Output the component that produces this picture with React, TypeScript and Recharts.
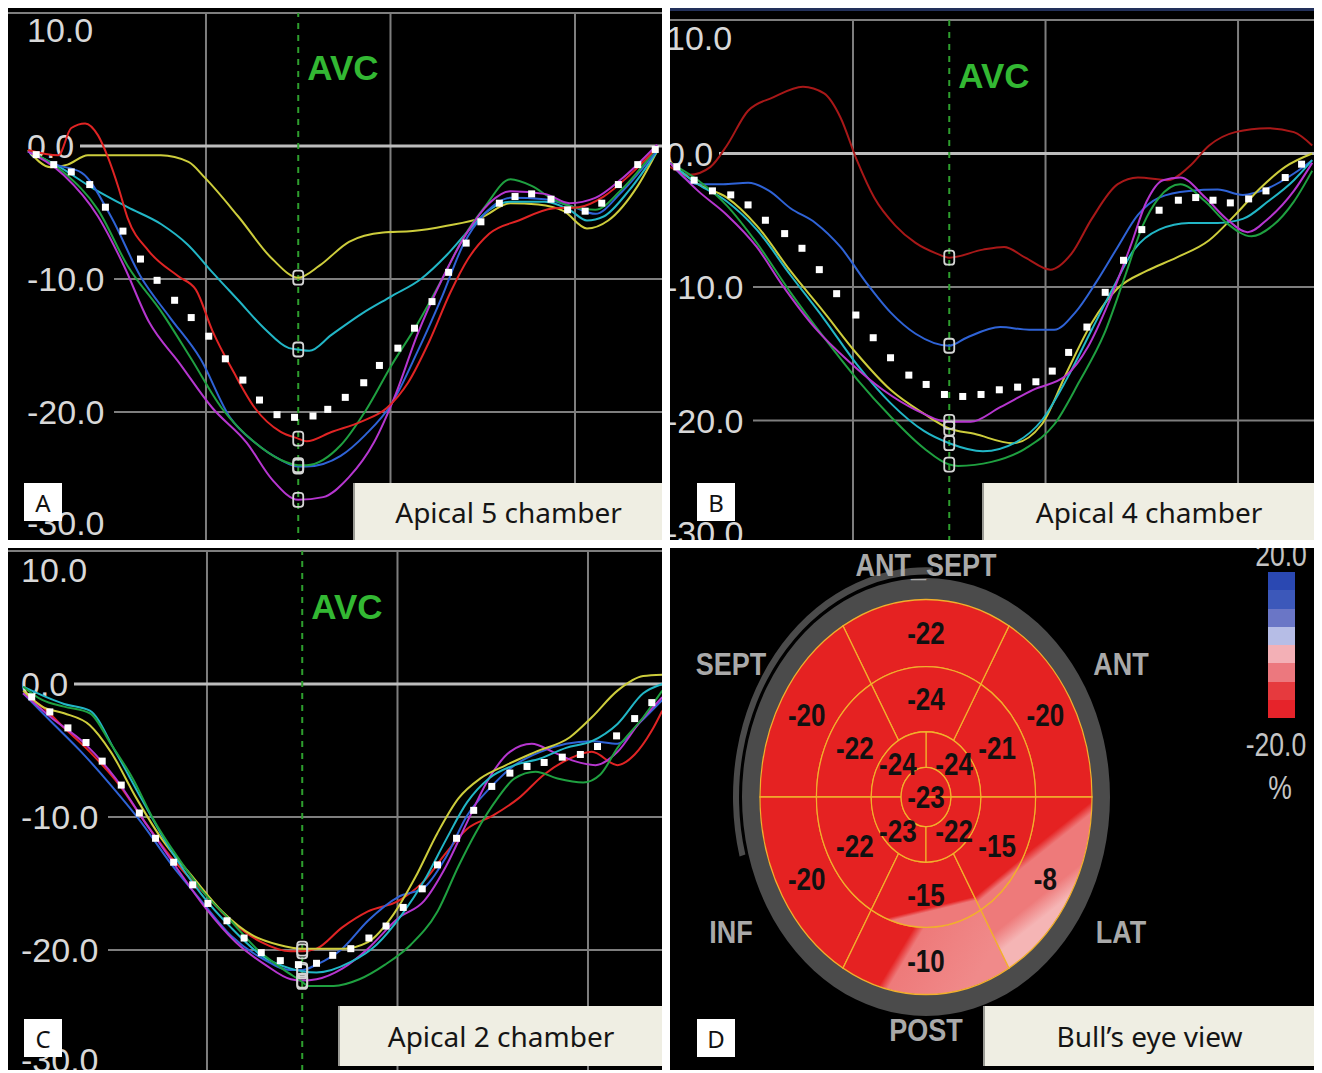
import React from "react";
import {
  ComposedChart, Line, Scatter, XAxis, YAxis, ReferenceLine,
  PieChart, Pie, Cell,
} from "recharts";

type Pt = [number, number]; // [time (ms), strain (%)]

// ---- A: apical 5 chamber ----
const A_RED: Pt[] = [[7,-0.3],[40,-0.7],[54,1.35],[69,1.7],[83,0.8],[94,-0.9],[105,-3.1],[115,-5.4],[138,-7.9],[170,-9.8],[189,-10.8],[207,-13.9],[230,-17],[253,-19.7],[281,-21.5],[300,-22],[309,-22.2],[336,-21.5],[369,-20.7],[396,-19.7],[419,-17.8],[442,-14.7],[465,-11],[484,-8.5],[507,-6.6],[539,-5.6],[576,-4.7],[604,-4.6],[631,-3.8],[659,-2.2],[689,-0.1]];
const A_YELLOW: Pt[] = [[7,-0.3],[32,-1.6],[50,-1.4],[72,-0.7],[110,-0.7],[151,-0.7],[181,-1.2],[199,-2.4],[235,-5.3],[272,-8.5],[300,-9.9],[323,-9],[355,-7.2],[392,-6.5],[424,-6.4],[461,-6],[498,-5.4],[530,-4.3],[560,-4.4],[588,-4.9],[613,-6.2],[636,-5.6],[668,-3],[689,-0.4]];
const A_CYAN: Pt[] = [[7,-0.4],[37,-1.4],[78,-3.2],[115,-4.6],[152,-5.9],[180,-7.4],[207,-9.5],[235,-11.6],[263,-13.7],[290,-15.2],[300,-15.3],[312,-15.4],[336,-14.2],[369,-12.6],[401,-11.3],[433,-10],[461,-8.2],[484,-6.4],[507,-4.8],[530,-4.2],[567,-4.2],[594,-4.8],[613,-5.6],[631,-5.3],[659,-3.3],[689,-0.4]];
const A_BLUE: Pt[] = [[7,-0.4],[37,-1.4],[65,-2],[97,-5.3],[129,-9.8],[161,-12.9],[194,-16],[226,-20.4],[253,-22.3],[281,-23.6],[300,-24.1],[309,-24.1],[346,-23.3],[373,-21.7],[401,-19.4],[429,-15.5],[456,-11.3],[479,-7.4],[502,-5.1],[530,-3.9],[567,-4],[599,-4.6],[622,-5.1],[650,-3.5],[689,-0.3]];
const A_GREEN: Pt[] = [[7,-0.3],[46,-2],[83,-4.8],[115,-9],[153,-12.6],[184,-16],[217,-19.7],[253,-22.3],[281,-23.6],[300,-24],[309,-24],[346,-22.5],[373,-19.9],[401,-16.5],[429,-13.4],[456,-10],[479,-6.9],[502,-4.6],[530,-2.5],[553,-3],[576,-4],[599,-4.6],[622,-4.8],[650,-3.3],[689,-0.1]];
const A_MAGENTA: Pt[] = [[7,-0.4],[46,-2.2],[83,-5.3],[111,-9],[138,-13.2],[171,-16.3],[207,-19.7],[244,-22.3],[272,-25.1],[300,-26.6],[327,-26.4],[355,-24.9],[382,-22.3],[406,-18.6],[429,-14.2],[456,-10],[484,-6.4],[507,-4.3],[530,-3.4],[567,-3.6],[594,-4.3],[622,-3.9],[650,-2.5],[689,0.1]];
const A_AVG: Pt[] = [[16,-0.65],[35,-1.4],[54,-1.95],[74,-2.9],[91,-4.6],[110,-6.4],[129,-8.5],[147,-10.1],[166,-11.6],[184,-12.9],[203,-14.3],[221,-16],[240,-17.6],[258,-19.1],[277,-20.2],[296,-20.4],[316,-20.3],[332,-19.8],[351,-18.9],[371,-17.8],[388,-16.5],[408,-15.2],[426,-13.7],[445,-11.7],[463,-9.5],[482,-7.3],[498,-5.7],[518,-4.3],[535,-3.8],[553,-3.6],[574,-4],[592,-4.8],[611,-4.9],[629,-4.3],[647,-2.9],[668,-1.4],[687,-0.26]];

// ---- B: apical 4 chamber ----
const B_RED: Pt[] = [[10,-1],[30,-1.6],[52,-1],[69,0.6],[91,3.2],[117,4.2],[148,5],[170,4.5],[187,2.7],[204,-0.5],[222,-3.3],[244,-5.4],[265,-6.7],[287,-7.5],[300,-7.8],[335,-7.2],[357,-7],[379,-7.8],[405,-8.7],[427,-7.5],[448,-4.9],[475,-2.3],[496,-1.8],[527,-2],[549,-1],[570,0.6],[597,1.6],[631,1.9],[658,1.6],[677,0.6]];
const B_BLUE: Pt[] = [[10,-0.7],[39,-2.3],[65,-2.3],[91,-2.2],[113,-2.8],[135,-4.1],[161,-5.2],[187,-7],[213,-9.6],[239,-11.9],[265,-13.5],[300,-14.4],[318,-13.8],[353,-13],[383,-13.2],[409,-13.2],[431,-11.9],[453,-9.6],[475,-7],[496,-4.6],[518,-3.3],[549,-2.8],[579,-2.7],[605,-3.1],[631,-2.6],[658,-1.5],[677,-0.5]];
const B_MAGENTA: Pt[] = [[10,-0.7],[39,-2.8],[69,-4.6],[100,-7],[126,-9.8],[161,-13.1],[196,-15.6],[231,-17.7],[265,-19.2],[300,-20.1],[322,-20.1],[353,-19],[387,-17.7],[422,-16.6],[444,-14.5],[466,-11.1],[488,-7],[505,-3.6],[522,-2],[540,-1.8],[566,-3.3],[588,-4.9],[610,-5.9],[631,-4.9],[658,-2.8],[677,-0.7]];
const B_YELLOW: Pt[] = [[10,-0.7],[39,-2.3],[69,-3.3],[100,-5.4],[135,-8.8],[170,-11.9],[204,-15],[239,-17.7],[274,-19.5],[300,-20.6],[326,-21],[366,-21.7],[396,-20.3],[422,-16.4],[448,-12.7],[475,-10.1],[505,-8.8],[536,-7.8],[570,-6.5],[597,-4.6],[623,-2.6],[649,-1],[677,0]];
const B_CYAN: Pt[] = [[10,-0.7],[39,-2.3],[69,-3.6],[100,-5.7],[135,-9.1],[170,-12.4],[204,-15.8],[239,-18.7],[274,-20.8],[300,-21.7],[335,-22.3],[370,-21.6],[396,-20],[422,-16.9],[448,-13.2],[470,-10.1],[492,-7.2],[518,-5.7],[549,-5.2],[579,-5.2],[605,-4.9],[631,-3.6],[658,-2],[677,-0.5]];
const B_GREEN: Pt[] = [[10,-0.7],[39,-2],[69,-3.9],[100,-6.7],[135,-10.4],[170,-13.8],[204,-16.9],[239,-19.7],[274,-22.1],[300,-23.3],[309,-23.4],[344,-23.1],[379,-22.1],[409,-20.3],[435,-17.1],[461,-13.5],[483,-9.1],[501,-5.4],[518,-3.3],[540,-2.3],[566,-3.6],[588,-5.2],[614,-6.2],[636,-5.4],[658,-3.6],[677,-1.3]];
const B_AVG: Pt[] = [[17,-1],[35,-2],[54,-2.8],[73,-3.1],[91,-3.85],[109,-5],[129,-6],[147,-7.1],[165,-8.7],[183,-10.5],[203,-12.1],[221,-13.8],[239,-15.3],[258,-16.6],[276,-17.3],[295,-18.05],[314,-18.2],[333,-18.05],[352,-17.7],[371,-17.5],[390,-17.1],[407,-16.3],[424,-14.9],[443,-13],[462,-10.4],[481,-8],[500,-5.7],[518,-4.25],[538,-3.5],[556,-3.3],[574,-3.5],[592,-3.7],[611,-3.4],[629,-2.8],[649,-1.8],[666,-0.8]];

// ---- C: apical 2 chamber ----
const C_GREEN: Pt[] = [[7,-0.2],[27,-1.2],[50,-1.7],[77,-2.2],[99,-4.5],[122,-7.1],[144,-10.2],[171,-13.2],[198,-15.8],[225,-17.8],[252,-19.9],[279,-21.4],[300,-22.4],[306,-22.7],[333,-22.7],[360,-22.2],[387,-21.1],[414,-19.6],[442,-17.1],[464,-13.7],[482,-11.2],[505,-8.6],[523,-7.1],[545,-6.6],[568,-7.1],[595,-7.4],[613,-6.8],[631,-4.8],[658,-2.5],[678,-0.5]];
const C_CYAN: Pt[] = [[7,-0.2],[50,-1.5],[77,-2],[104,-5.1],[131,-8.6],[162,-12.5],[194,-15.8],[225,-18.3],[257,-20.4],[288,-21.4],[300,-21.6],[315,-21.7],[351,-20.9],[378,-19.6],[405,-17.3],[428,-14.8],[451,-11.7],[473,-8.9],[496,-7.1],[523,-6.1],[550,-5.6],[577,-4.8],[604,-4.3],[631,-3],[658,-0.7],[678,0]];
const C_YELLOW: Pt[] = [[7,-0.5],[27,-1.7],[50,-2.2],[77,-3.1],[99,-5.1],[126,-8.6],[153,-11.7],[185,-14.5],[216,-17.1],[248,-18.9],[275,-19.6],[300,-19.9],[342,-19.9],[369,-19.4],[396,-17.3],[419,-14.5],[442,-11.2],[464,-8.6],[487,-7.1],[514,-6.1],[545,-5.1],[581,-4],[604,-2.5],[631,-0.5],[658,0.6],[678,0.7]];
const C_RED: Pt[] = [[7,-0.7],[27,-1.7],[50,-3.3],[77,-5.1],[108,-7.6],[135,-10.4],[162,-13],[194,-15.5],[225,-17.8],[257,-19.4],[288,-20.1],[300,-20.1],[315,-19.9],[342,-18.3],[369,-17.1],[401,-16.3],[428,-14.8],[451,-12.7],[473,-10.9],[500,-9.9],[527,-8.6],[554,-6.8],[581,-5.6],[604,-5.1],[631,-6.1],[649,-5.3],[667,-3.5],[678,-2]];
const C_BLUE: Pt[] = [[7,-0.7],[36,-2.8],[68,-5.1],[99,-7.6],[131,-10.4],[162,-13.5],[194,-16.3],[225,-18.9],[257,-20.6],[288,-21.5],[300,-21.5],[315,-21.1],[342,-19.9],[369,-17.8],[401,-16],[428,-15.3],[451,-13],[473,-9.9],[496,-7.9],[523,-6.1],[550,-5.1],[577,-4.5],[604,-4.3],[631,-4.5],[653,-3],[678,-1.2]];
const C_MAGENTA: Pt[] = [[7,-0.7],[36,-2.5],[72,-4.5],[104,-7.1],[135,-10.4],[167,-13.7],[198,-16.8],[230,-19.4],[261,-21.1],[288,-22.2],[300,-22.3],[315,-22.2],[342,-21.4],[369,-19.9],[401,-17.6],[428,-16.3],[451,-13.7],[473,-10.4],[496,-7.1],[518,-5.1],[541,-4.5],[563,-5.1],[586,-5.8],[608,-6.1],[631,-5.1],[653,-3],[678,-1]];
const C_AVG: Pt[] = [[16,-0.97],[35,-2.1],[54,-3.3],[73,-4.4],[90,-5.8],[110,-7.6],[129,-9.7],[146,-11.6],[165,-13.4],[185,-15.1],[201,-16.5],[221,-17.8],[239,-19.1],[257,-20.2],[277,-20.8],[296,-21.1],[315,-21],[332,-20.4],[351,-19.9],[370,-19.1],[388,-18.2],[406,-16.8],[426,-15.4],[442,-13.6],[462,-11.6],[480,-9.5],[499,-7.7],[518,-6.7],[536,-6.2],[554,-5.9],[573,-5.5],[592,-5.3],[610,-4.7],[630,-3.9],[649,-2.6],[667,-1.4]];

const Y_TICKS = [10, 0, -10, -20, -30];
const GRID_T = [200, 400, 600];
const AVC_T = 300;

// ---- D: bull's eye (segments counter-clockwise from 3 o'clock) ----
const BASAL_NAMES = ["ANT", "ANT_SEPT", "SEPT", "INF", "POST", "LAT"];
const BASAL_STRAIN = [-20, -22, -20, -20, -10, -8];
const MID_STRAIN = [-21, -24, -22, -22, -15, -15];
const APICAL_STRAIN = [-24, -24, -23, -22];
const APEX_STRAIN = [-23];
const COLORBAR = ["#2a48b2", "#3c58ba", "#6a76c6", "#b6bde6", "#f3b0b6", "#ec787e", "#e63a3e", "#e6232a"];

const RED = "#e52222";
const PINK = "#ee7a7a";
const LIGHT_PINK = "#f5b5b5";

const C = {
  red: "#e02424", yellow: "#cdcd3c", cyan: "#22b6c6",
  blue: "#2f63d6", green: "#1fa040", magenta: "#b636cf",
};

const toRows = (pts: Pt[]) => pts.map(([t, v]) => ({ t, v }));

const avcDot = (p: any) => {
  if (p.payload?.t !== AVC_T) return <g key={`n${p.index}`} />;
  return (
    <rect key={`m${p.index}`} x={p.cx - 5} y={p.cy - 7} width={10} height={14} rx={3}
      fill="none" stroke="#d4d4d4" strokeWidth={1.8} />
  );
};

const whiteSquare = (p: any) => (
  <rect x={p.cx - 3.5} y={p.cy - 3.5} width={7} height={7} fill="#ffffff" />
);

interface PanelCfg {
  left: number; top: number; width: number; height: number;
  tMin: number; tMax: number; plotTop: number; plotBottom: number;
  labelX: number; labelLo: number; labelHi: number; avcY: number;
  borderTop?: string;
}

function StrainPanel({ cfg, series, avg }: {
  cfg: PanelCfg;
  series: { key: string; pts: Pt[]; color: string }[];
  avg: Pt[];
}) {
  const chartH = cfg.plotBottom + 10;

  // value label sitting on its grid line (black backing hides the line up to the label end)
  const yLabel = (v: number) => (p: any) => {
    const y = Math.min(Math.max(p.viewBox.y, cfg.labelLo), cfg.labelHi);
    const s = v.toFixed(1);
    const w = cfg.labelX + s.length * 17 + 2;
    return (
      <g>
        <rect x={0} y={y - 14} width={w} height={28} fill="#000" />
        <text x={cfg.labelX} y={y} dy="0.36em" fill="#d8d8d8"
          fontSize={34} fontFamily="'Liberation Sans', Arial, sans-serif">
          {s}
        </text>
      </g>
    );
  };

  const lineStroke = (v: number) => (v === 0 ? "#bdbdbd" : v === -30 ? "none" : "#7e7e7e");

  const avcLabel = (p: any) => (
    <text x={p.viewBox.x + 9} y={cfg.avcY} dy="0.36em" fill="#33b833" fontSize={35}
      fontWeight="bold" fontFamily="'Liberation Sans', Arial, sans-serif">
      AVC
    </text>
  );

  return (
    <div style={{
      position: "absolute", left: cfg.left, top: cfg.top, width: cfg.width, height: cfg.height,
      background: "#000", overflow: "hidden", borderTop: cfg.borderTop,
      boxSizing: "border-box",
    }}>
      <ComposedChart width={cfg.width} height={chartH}
        margin={{ top: cfg.plotTop, right: 0, bottom: 10, left: 0 }}>
        <XAxis type="number" dataKey="t" domain={[cfg.tMin, cfg.tMax]} allowDataOverflow hide />
        <YAxis type="number" domain={[-30, 10]} allowDataOverflow hide />
        {GRID_T.map((t) => (
          <ReferenceLine key={`gx${t}`} x={t} stroke="#7e7e7e" strokeWidth={2} />
        ))}
        {Y_TICKS.map((v) => (
          <ReferenceLine key={`gy${v}`} y={v} stroke={lineStroke(v)} strokeWidth={v === 0 ? 3 : 2}
            label={yLabel(v)} />
        ))}
        <ReferenceLine x={AVC_T} stroke="#2e9e2e" strokeWidth={2} strokeDasharray="6 6"
          label={avcLabel} />
        {series.map((s) => (
          <Line key={s.key} data={toRows(s.pts)} dataKey="v" type="monotone" stroke={s.color}
            strokeWidth={2} dot={avcDot} activeDot={false} isAnimationActive={false} />
        ))}
        <Scatter data={toRows(avg)} dataKey="v" shape={whiteSquare} isAnimationActive={false} />
      </ComposedChart>
    </div>
  );
}

function LetterBox({ left, top, letter }: { left: number; top: number; letter: string }) {
  return (
    <div style={{
      position: "absolute", left, top, width: 38, height: 38, background: "#fff",
      display: "flex", alignItems: "center", justifyContent: "center",
      fontFamily: "'Noto Sans', 'Open Sans', sans-serif", fontSize: 24, color: "#111",
    }}>{letter}</div>
  );
}

function TitleBox({ left, top, width, height, title }: {
  left: number; top: number; width: number; height: number; title: string;
}) {
  return (
    <div style={{
      position: "absolute", left, top, width, height, background: "#efeee3",
      borderLeft: "2px solid #9a9a94", boxSizing: "border-box",
      display: "flex", alignItems: "center", justifyContent: "center",
      fontFamily: "'Noto Sans', 'Open Sans', sans-serif", fontSize: 28, color: "#151515",
    }}>{title}</div>
  );
}

const PANEL_A: PanelCfg = {
  left: 8, top: 8, width: 654, height: 532, tMin: -14.6, tMax: 694.3,
  plotTop: 5, plotBottom: 537, labelX: 19, labelLo: 22, labelHi: 515, avcY: 59,
};
const PANEL_B: PanelCfg = {
  left: 670, top: 8, width: 644, height: 532, tMin: 9.9, tMax: 678.9,
  plotTop: 9, plotBottom: 543, labelX: -4, labelLo: 27, labelHi: 522, avcY: 64,
  borderTop: "3px solid #22305a",
};
const PANEL_C: PanelCfg = {
  left: 8, top: 548, width: 654, height: 522, tMin: -8.9, tMax: 677.7,
  plotTop: 3, plotBottom: 535, labelX: 13, labelLo: 22, labelHi: 512, avcY: 58,
};

function BullsEye() {
  const R = 166;
  const cx = 270;
  const cy = 240;
  const seg = (vals: number[]) => vals.map((strain, i) => ({ name: `s${i}`, strain, w: 1 }));
  const basal = BASAL_STRAIN.map((strain, i) => ({ name: BASAL_NAMES[i], strain, w: 1 }));
  const basalFill = [RED, RED, RED, RED, "url(#gPost)", "url(#gLat)"];
  const midFill = [RED, RED, RED, RED, "url(#gMidLow)", "url(#gMidLR)"];
  const RAD = Math.PI / 180;
  const txt = "'Liberation Sans', Arial, sans-serif";

  const numLabel = (p: any) => {
    const r = p.innerRadius === 0 ? 0 : (p.innerRadius + p.outerRadius) / 2;
    const x = p.cx + r * Math.cos(-p.midAngle * RAD);
    const y = p.cy + r * Math.sin(-p.midAngle * RAD);
    return (
      <text key={`l${p.index}`} x={x} y={y} dy="0.36em" textAnchor="middle" fill="#111"
        fontSize={26} fontWeight="bold" fontFamily={txt}>{p.payload.strain}</text>
    );
  };

  const basalLabel = (p: any) => {
    const a = -p.midAngle * RAD;
    const rn = (p.innerRadius + p.outerRadius) / 2;
    const rd = p.outerRadius * 1.175 + Math.abs(Math.cos(a)) * p.outerRadius * 0.21;
    return (
      <g key={`b${p.index}`}>
        <text x={p.cx + rn * Math.cos(a)} y={p.cy + rn * Math.sin(a)} dy="0.36em"
          textAnchor="middle" fill="#111" fontSize={26} fontWeight="bold" fontFamily={txt}>
          {p.payload.strain}
        </text>
        <text x={p.cx + rd * Math.cos(a)} y={p.cy + rd * Math.sin(a)} dy="0.36em"
          textAnchor="middle" fill="#a9a9a9" fontSize={27} fontWeight="bold" fontFamily={txt}>
          {p.payload.name}
        </text>
      </g>
    );
  };

  const edge = "#f2b02c";

  return (
    <div style={{
      position: "absolute", left: 670, top: 548, width: 644, height: 522,
      background: "#000", overflow: "hidden",
    }}>
      <div style={{
        position: "absolute", left: -14, top: 9,
        transform: "scaleY(1.19)", transformOrigin: `${cx}px ${cy}px`,
      }}>
        <PieChart width={540} height={480} margin={{ top: 0, right: 0, bottom: 0, left: 0 }}>
          <defs>
            <linearGradient id="gPost" x1="0" y1="0" x2="0.956" y2="0.293">
              <stop offset="0.47" stopColor={RED} />
              <stop offset="0.53" stopColor={PINK} />
              <stop offset="1" stopColor="#f08a8a" />
            </linearGradient>
            <linearGradient id="gLat" x1="0" y1="0" x2="0.46" y2="0.89">
              <stop offset="0.48" stopColor={RED} />
              <stop offset="0.54" stopColor={PINK} />
              <stop offset="0.76" stopColor={PINK} />
              <stop offset="0.88" stopColor={LIGHT_PINK} />
            </linearGradient>
            <linearGradient id="gMidLow" x1="0" y1="0" x2="0.34" y2="0.94">
              <stop offset="0.87" stopColor={RED} />
              <stop offset="0.92" stopColor={PINK} />
            </linearGradient>
            <linearGradient id="gMidLR" x1="0" y1="0" x2="0.51" y2="0.85">
              <stop offset="0.9" stopColor={RED} />
              <stop offset="0.96" stopColor={PINK} />
            </linearGradient>
          </defs>
          <Pie data={[{ w: 1 }]} dataKey="w" cx={cx} cy={cy} innerRadius={R} outerRadius={R + 18}
            fill="#4b4b4b" stroke="none" isAnimationActive={false} />
          <Pie data={[{ w: 1 }]} dataKey="w" cx={cx} cy={cy} innerRadius={R + 21}
            outerRadius={R + 27} startAngle={88} endAngle={195}
            fill="#4b4b4b" stroke="none" isAnimationActive={false} />
          <Pie data={basal} dataKey="w" nameKey="name" cx={cx} cy={cy} innerRadius={R * 0.66}
            outerRadius={R} startAngle={0} endAngle={360} stroke={edge} strokeWidth={1.2}
            label={basalLabel} labelLine={false} isAnimationActive={false}>
            {basal.map((d, i) => <Cell key={d.name} fill={basalFill[i]} />)}
          </Pie>
          <Pie data={seg(MID_STRAIN)} dataKey="w" cx={cx} cy={cy} innerRadius={R * 0.33}
            outerRadius={R * 0.66} startAngle={0} endAngle={360} stroke={edge} strokeWidth={1.2}
            label={numLabel} labelLine={false} isAnimationActive={false}>
            {MID_STRAIN.map((_, i) => <Cell key={`m${i}`} fill={midFill[i]} />)}
          </Pie>
          <Pie data={seg(APICAL_STRAIN)} dataKey="w" cx={cx} cy={cy} innerRadius={R * 0.15}
            outerRadius={R * 0.33} startAngle={0} endAngle={360} stroke={edge} strokeWidth={1.2}
            fill={RED} label={numLabel} labelLine={false} isAnimationActive={false} />
          <Pie data={seg(APEX_STRAIN)} dataKey="w" cx={cx} cy={cy} innerRadius={0}
            outerRadius={R * 0.15} stroke={edge} strokeWidth={1.2}
            fill={RED} label={numLabel} labelLine={false} isAnimationActive={false} />
        </PieChart>
      </div>

      {/* colour scale */}
      <div style={{ position: "absolute", left: 598, top: 24, width: 27, height: 146 }}>
        {COLORBAR.map((c) => (
          <div key={c} style={{ height: 146 / COLORBAR.length, background: c }} />
        ))}
      </div>
      {[
        { text: "20.0", x: 611, y: 6 },
        { text: "-20.0", x: 606, y: 196 },
        { text: "%", x: 610, y: 239 },
      ].map((l) => (
        <div key={l.text} style={{
          position: "absolute", left: l.x - 50, top: l.y - 17, width: 100, height: 34,
          textAlign: "center", lineHeight: "34px", fontSize: 34, color: "#c4c4c4",
          fontFamily: "'Liberation Sans', Arial, sans-serif", transform: "scaleX(0.78)",
        }}>{l.text}</div>
      ))}
    </div>
  );
}

export default function App() {
  return (
    <div style={{
      position: "absolute", left: 0, top: 0, width: 1322, height: 1073,
      background: "#fff", overflow: "hidden",
    }}>
      <StrainPanel cfg={PANEL_A} avg={A_AVG} series={[
        { key: "yellow", pts: A_YELLOW, color: C.yellow },
        { key: "cyan", pts: A_CYAN, color: C.cyan },
        { key: "blue", pts: A_BLUE, color: C.blue },
        { key: "green", pts: A_GREEN, color: C.green },
        { key: "magenta", pts: A_MAGENTA, color: C.magenta },
        { key: "red", pts: A_RED, color: C.red },
      ]} />
      <StrainPanel cfg={PANEL_B} avg={B_AVG} series={[
        { key: "red", pts: B_RED, color: "#a81818" },
        { key: "blue", pts: B_BLUE, color: C.blue },
        { key: "yellow", pts: B_YELLOW, color: C.yellow },
        { key: "cyan", pts: B_CYAN, color: C.cyan },
        { key: "green", pts: B_GREEN, color: C.green },
        { key: "magenta", pts: B_MAGENTA, color: C.magenta },
      ]} />
      <StrainPanel cfg={PANEL_C} avg={C_AVG} series={[
        { key: "red", pts: C_RED, color: C.red },
        { key: "blue", pts: C_BLUE, color: C.blue },
        { key: "magenta", pts: C_MAGENTA, color: C.magenta },
        { key: "yellow", pts: C_YELLOW, color: C.yellow },
        { key: "cyan", pts: C_CYAN, color: C.cyan },
        { key: "green", pts: C_GREEN, color: C.green },
      ]} />
      <BullsEye />

      <LetterBox left={24} top={483} letter="A" />
      <TitleBox left={353} top={483} width={309} height={57} title="Apical 5 chamber" />
      <LetterBox left={697} top={483} letter="B" />
      <TitleBox left={982} top={483} width={332} height={57} title="Apical 4 chamber" />
      <LetterBox left={24} top={1019} letter="C" />
      <TitleBox left={338} top={1006} width={324} height={60} title="Apical 2 chamber" />
      <LetterBox left={697} top={1019} letter="D" />
      <TitleBox left={983} top={1006} width={331} height={60} title="Bull’s eye view" />
    </div>
  );
}
